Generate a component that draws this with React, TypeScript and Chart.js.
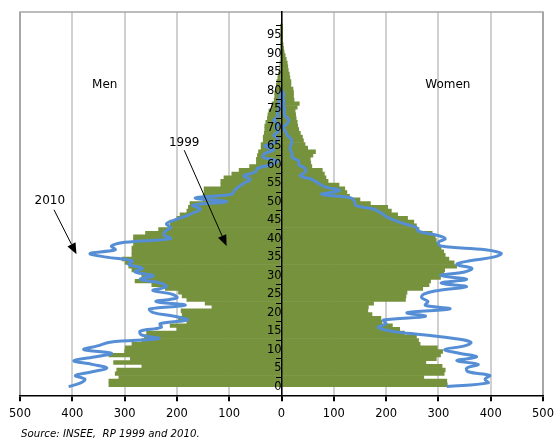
import React, { useEffect, useRef } from "react";
import { Chart, registerables } from "chart.js";

Chart.register(...registerables);

// Age tick labels on the vertical axis
const ageTicks = [0, 5, 10, 15, 20, 25, 30, 35, 40, 45, 50, 55, 60, 65, 70, 75, 80, 85, 90, 95];
// Horizontal axis tick values (absolute population)
const valueTicks = [-500, -400, -300, -200, -100, 0, 100, 200, 300, 400, 500];

// 1999 census (bars), one value per age from 0
const men1999 = [
  330, 330, 311, 318, 315, 267, 321, 289, 330, 300,
  299, 286, 267, 262, 258, 200, 213, 181, 197, 190,
  192, 133, 146, 181, 190, 197, 222, 248, 280, 267,
  267, 286, 292, 299, 305, 286, 286, 286, 283, 283,
  283, 260, 235, 213, 213, 200, 194, 181, 178, 175,
  150, 150, 148, 148, 116, 116, 110, 95, 81, 61,
  48, 48, 46, 44, 39, 39, 35, 35, 33, 32,
  32, 30, 27, 26, 24, 19, 18, 14, 13, 13,
  10, 10, 9, 7, 6, 4, 3, 3, 2, 2,
  1.5, 1, 1, 1, 0.5, 0.5, 0.3, 0.2,
];
const women1999 = [
  317, 316, 272, 311, 313, 307, 276, 296, 304, 308,
  298, 265, 262, 258, 235, 226, 212, 192, 190, 173,
  165, 166, 176, 237, 238, 240, 270, 282, 285, 304,
  310, 312, 335, 330, 320, 313, 310, 305, 300, 296,
  294, 288, 263, 258, 253, 241, 222, 210, 203, 170,
  150, 130, 125, 121, 110, 89, 85, 82, 78, 58,
  56, 55, 60, 65, 50, 45, 42, 40, 36, 33,
  31, 30, 28, 27, 26, 30, 34, 24, 23, 23,
  22, 18, 18, 16, 15, 13, 12, 11, 9, 7,
  5, 4, 3, 2, 1.5, 1, 0.5, 0.3,
];

// 2010 census (lines), one value per age from 0
const men2010 = [
  407, 384, 376, 394, 362, 334, 362, 397, 358, 325,
  378, 352, 328, 235, 268, 270, 230, 232, 180, 205,
  245, 252, 184, 240, 200, 210, 246, 220, 232, 270,
  245, 280, 266, 292, 285, 335, 366, 318, 325, 300,
  212, 225, 222, 212, 220, 205, 185, 168, 155, 170,
  105, 165, 95, 90, 82, 72, 60, 72, 50, 46,
  20, 8, 35, 32, 15, 32, 12, 8, 15, 6,
  12, 5, 15, 7, 8, 5, 3, 5, 3, 2,
  1,
];
const women2010 = [
  316, 395, 389, 398, 357, 354, 376, 335, 373, 340,
  312, 350, 362, 330, 270, 210, 185, 200, 195, 275,
  240, 322, 275, 280, 268, 272, 300, 354, 305, 354,
  304, 350, 364, 335, 360, 405, 420, 390, 305, 300,
  313, 295, 262, 258, 235, 215, 200, 190, 175, 142,
  140, 133, 77, 111, 83, 70, 58, 36, 45, 45,
  33, 33, 20, 20, 17, 17, 20, 18, 11, 8,
  3, 10, 14, 8, 5, 6, 4, 5, 3, 4,
  2,
];

const GREEN = "#76923C";
const BLUE = "#558ED5";
const FONT = "'DejaVu Sans', Verdana, sans-serif";

const annotationPlugin = {
  id: "pyramidNotes",
  afterDatasetsDraw(chart: any) {
    const { ctx, scales } = chart;
    const xs = scales.x;
    const ys = scales.y;
    const px = (v: number) => xs.getPixelForValue(v);
    const py = (v: number) => ys.getPixelForValue(v);
    ctx.save();
    ctx.fillStyle = "#000";
    ctx.font = `12px ${FONT}`;
    ctx.textAlign = "center";
    ctx.textBaseline = "middle";
    ctx.fillText("Men", px(-338), py(81.7));
    ctx.fillText("Women", px(318), py(81.7));
    ctx.fillText("1999", px(-186), py(66));
    ctx.fillText("2010", px(-443), py(50.3));

    const arrow = (x1: number, y1: number, x2: number, y2: number) => {
      const ax = px(x1), ay = py(y1), bx = px(x2), by = py(y2);
      const ang = Math.atan2(by - ay, bx - ax);
      const len = 11, half = 4.5;
      const baseX = bx - len * Math.cos(ang);
      const baseY = by - len * Math.sin(ang);
      ctx.strokeStyle = "#000";
      ctx.lineWidth = 1;
      ctx.beginPath();
      ctx.moveTo(ax, ay);
      ctx.lineTo(baseX, baseY);
      ctx.stroke();
      ctx.beginPath();
      ctx.moveTo(bx, by);
      ctx.lineTo(baseX + half * Math.sin(ang), baseY - half * Math.cos(ang));
      ctx.lineTo(baseX - half * Math.sin(ang), baseY + half * Math.cos(ang));
      ctx.closePath();
      ctx.fill();
    };
    arrow(-186, 63.9, -105, 38);
    arrow(-435, 47.8, -392, 35.8);
    ctx.restore();
  },
  beforeDatasetsDraw(chart: any) {
    const { ctx, chartArea } = chart;
    ctx.save();
    ctx.strokeStyle = "#a6a6a6";
    ctx.lineWidth = 1.5;
    ctx.beginPath();
    ctx.moveTo(chartArea.left, chartArea.bottom);
    ctx.lineTo(chartArea.left, chartArea.top);
    ctx.lineTo(chartArea.right, chartArea.top);
    ctx.lineTo(chartArea.right, chartArea.bottom);
    ctx.stroke();
    ctx.restore();
  },
};

export default function App() {
  const canvasRef = useRef<HTMLCanvasElement | null>(null);

  useEffect(() => {
    if (!canvasRef.current) return;
    const chart = new Chart(canvasRef.current, {
      type: "bar",
      data: {
        datasets: [
          {
            type: "line",
            label: "Men 2010",
            data: men2010.map((v, i) => ({ x: -v, y: i })),
            borderColor: BLUE,
            borderWidth: 3,
            pointRadius: 0,
            tension: 0.4,
            fill: false,
            indexAxis: "y",
            order: 0,
          } as any,
          {
            type: "line",
            label: "Women 2010",
            data: women2010.map((v, i) => ({ x: v, y: i })),
            borderColor: BLUE,
            borderWidth: 3,
            pointRadius: 0,
            tension: 0.4,
            fill: false,
            indexAxis: "y",
            order: 0,
          } as any,
          {
            type: "bar",
            label: "Men 1999",
            data: men1999.map((v, i) => ({ x: -v, y: i + 0.5 })),
            backgroundColor: GREEN,
            borderWidth: 0,
            grouped: false,
            barPercentage: 1,
            categoryPercentage: 1,
            order: 1,
          } as any,
          {
            type: "bar",
            label: "Women 1999",
            data: women1999.map((v, i) => ({ x: v, y: i + 0.5 })),
            backgroundColor: GREEN,
            borderWidth: 0,
            grouped: false,
            barPercentage: 1,
            categoryPercentage: 1,
            order: 1,
          } as any,
        ],
      },
      options: {
        indexAxis: "y",
        animation: false,
        responsive: true,
        maintainAspectRatio: false,
        layout: { padding: { left: 20, right: 13, top: 10, bottom: 14 } },
        plugins: {
          legend: { display: false },
          tooltip: { enabled: false },
        },
        scales: {
          x: {
            type: "linear",
            position: "bottom",
            min: -500,
            max: 500,
            afterBuildTicks: (axis: any) => {
              axis.ticks = valueTicks.map((v) => ({ value: v }));
            },
            ticks: {
              callback: (v: any) => String(Math.abs(Number(v))),
              color: "#000",
              font: { family: FONT, size: 11.5 },
              padding: 6,
              maxRotation: 0,
            },
            grid: {
              color: (c: any) =>
                c.tick && Math.abs(c.tick.value) === 500 ? "#a6a6a6" : "#d0d0d0",
              lineWidth: 2,
              tickColor: "#000",
              tickLength: 5,
              drawTicks: true,
            },
            border: { display: true, color: "#000", width: 1.5, z: 1 },
          },
          y: {
            type: "linear",
            position: { x: 0 } as any,
            min: 0,
            max: 98.7,
            afterBuildTicks: (axis: any) => {
              axis.ticks = ageTicks.map((v) => ({ value: v }));
            },
            ticks: {
              color: "#000",
              font: { family: FONT, size: 11.5 },
              padding: 5,
              z: 2,
            },
            grid: {
              display: true,
              drawOnChartArea: false,
              drawTicks: true,
              tickLength: 5,
              color: "#000",
              lineWidth: 1,
              z: 2,
            },
            border: { display: true, color: "#000", width: 1.5, z: 2 },
          },
        } as any,
      },
      plugins: [annotationPlugin],
    });
    return () => chart.destroy();
  }, []);

  return (
    <div style={{ position: "fixed", left: 0, top: 0, width: 560, height: 441, background: "#fff" }}>
      <canvas ref={canvasRef} />
      <div
        style={{
          position: "absolute",
          left: 21,
          top: 428,
          fontFamily: FONT,
          fontStyle: "italic",
          fontSize: "10.2px",
          whiteSpace: "pre",
          color: "#000",
          lineHeight: "12px",
        }}
      >
        {"Source: INSEE,  RP 1999 and 2010."}
      </div>
    </div>
  );
}
